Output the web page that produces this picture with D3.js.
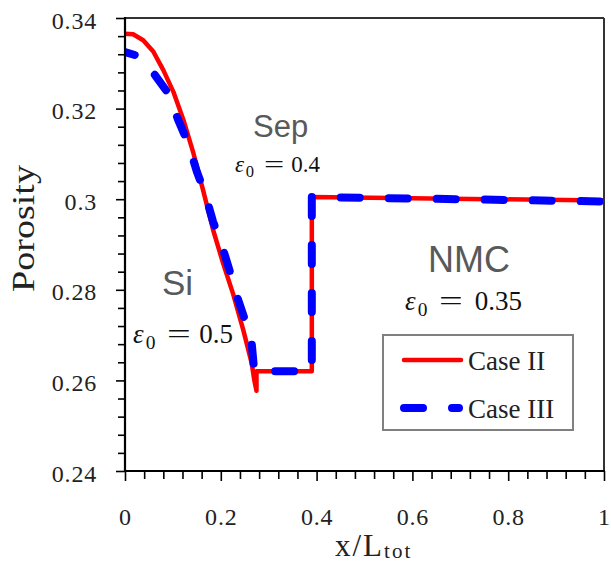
<!DOCTYPE html>
<html>
<head>
<meta charset="utf-8">
<script src="https://cdn.jsdelivr.net/npm/d3@7"></script>
<style>
  body { margin: 0; background: #fff; }
  svg { display: block; }
  .serif { font-family: "Liberation Serif", "Times New Roman", serif; }
  .sans { font-family: "Liberation Sans", Arial, sans-serif; }
</style>
</head>
<body>
<svg id="chart" width="611" height="565"></svg>
<script>
// Porosity profile across Si anode | separator | NMC cathode
const caseIIx = [0, 0.017, 0.038, 0.059, 0.080, 0.101, 0.122, 0.143, 0.163, 0.184, 0.205, 0.226, 0.247, 0.2645, 0.270, 0.2745, 0.2745, 0.390, 0.390, 1.0];
const caseIIy = [0.3365, 0.3364, 0.3351, 0.3326, 0.3285, 0.3237, 0.3175, 0.3101, 0.3020, 0.2932, 0.2858, 0.2790, 0.2711, 0.2638, 0.2600, 0.2577, 0.2620, 0.2620, 0.3005, 0.2997];

const caseIIIx = [0, 0.031, 0.0626, 0.090, 0.111, 0.132, 0.150, 0.167, 0.184, 0.202, 0.219, 0.233, 0.2505, 0.2645, 0.269, 0.269, 0.390, 0.390, 1.0];
const caseIIIy = [0.3325, 0.3315, 0.3274, 0.3234, 0.3175, 0.3123, 0.3061, 0.3013, 0.2950, 0.2899, 0.2840, 0.2788, 0.2733, 0.2682, 0.2630, 0.2620, 0.2620, 0.3005, 0.2995];

const seriesNames = ["Case II", "Case III"];
const seriesColors = ["#ff0000", "#0000ff"];

const xTicks = [0, 0.2, 0.4, 0.6, 0.8, 1];
const xTickLabels = ["0", "0.2", "0.4", "0.6", "0.8", "1"];
const yTicks = [0.24, 0.26, 0.28, 0.30, 0.32, 0.34];
const yTickLabels = ["0.24", "0.26", "0.28", "0.3", "0.32", "0.34"];

// region annotations: name, epsilon value, anchor (data coords)
const regionNames = ["Si", "Sep", "NMC"];
const regionEps = ["0.5", "0.4", "0.35"];
const regionNameX = [0.0772, 0.2672, 0.6326];
const regionNameY = [0.2789, 0.3137, 0.2839];
const regionEpsX = [0.0167, 0.2296, 0.5846];
const regionEpsY = [0.2683, 0.3060, 0.2755];

const W = 611, H = 565;
const margin = { top: 18, right: 7, bottom: 94, left: 125 };
const x0 = margin.left, x1 = W - margin.right;
const y0 = margin.top, y1 = H - margin.bottom;

const x = d3.scaleLinear().domain([0, 1]).range([x0, x1]);
const y = d3.scaleLinear().domain([0.24, 0.34]).range([y1, y0]);

const svg = d3.select("#chart");

svg.append("defs").append("clipPath").attr("id", "plotClip")
  .append("rect").attr("x", x0).attr("y", y0).attr("width", x1 - x0).attr("height", y1 - y0);

// y axis ticks: minor every 0.004, major every 0.02
const yMinor = d3.range(0, 26).map(i => 0.24 + i * 0.004).filter(v => !yTicks.some(t => Math.abs(t - v) < 1e-9));
const yMinorAxis = svg.append("g").attr("transform", `translate(${x0},0)`)
  .call(d3.axisLeft(y).tickValues(yMinor).tickSize(7).tickFormat(""));
const yMajorAxis = svg.append("g").attr("transform", `translate(${x0},0)`)
  .call(d3.axisLeft(y).tickValues(yTicks).tickSize(9).tickPadding(19)
    .tickFormat((d, i) => yTickLabels[i]));

// x axis ticks: minor every 0.04, major every 0.2
const xMinor = d3.range(0, 26).map(i => i * 0.04).filter(v => !xTicks.some(t => Math.abs(t - v) < 1e-9));
const xMinorAxis = svg.append("g").attr("transform", `translate(0,${y1})`)
  .call(d3.axisBottom(x).tickValues(xMinor).tickSize(8).tickFormat(""));
const xMajorAxis = svg.append("g").attr("transform", `translate(0,${y1})`)
  .call(d3.axisBottom(x).tickValues(xTicks).tickSize(10).tickPadding(27)
    .tickFormat((d, i) => xTickLabels[i]));

[yMinorAxis, yMajorAxis, xMinorAxis, xMajorAxis].forEach(g => {
  g.attr("font-family", null).attr("font-size", null);
  g.select(".domain").remove();
  g.selectAll(".tick line").attr("stroke", "#000").attr("stroke-width", 1.6);
  g.selectAll(".tick text")
    .attr("class", "serif")
    .style("font-size", "24px")
    .style("letter-spacing", "0.8px").attr("fill", "#222");
});
yMajorAxis.selectAll(".tick text").attr("dy", "10px");
xMajorAxis.selectAll(".tick text").attr("dy", "0.71em");

// data lines
const line = d3.line().x(d => x(d[0])).y(d => y(d[1]));
const caseII = caseIIx.map((v, i) => [v, caseIIy[i]]);
const caseIII = caseIIIx.map((v, i) => [v, caseIIIy[i]]);

const plot = svg.append("g").attr("clip-path", "url(#plotClip)");
plot.append("path").datum(caseII)
  .attr("d", line).attr("fill", "none")
  .attr("stroke", seriesColors[0]).attr("stroke-width", 4.5)
  .attr("stroke-linejoin", "round");
plot.append("path").datum(caseIII)
  .attr("d", line).attr("fill", "none")
  .attr("stroke", seriesColors[1]).attr("stroke-width", 8)
  .attr("stroke-linecap", "round").attr("stroke-linejoin", "round")
  .attr("stroke-dasharray", "19,29").attr("stroke-dashoffset", 8.8);

// frame
svg.append("line").attr("x1", x0).attr("x2", x1).attr("y1", y0).attr("y2", y0)
  .attr("stroke", "#333").attr("stroke-width", 2);
svg.append("line").attr("x1", x1).attr("x2", x1).attr("y1", y0).attr("y2", y1)
  .attr("stroke", "#333").attr("stroke-width", 2);
svg.append("line").attr("x1", x0).attr("x2", x0).attr("y1", y0 - 1).attr("y2", y1 + 1)
  .attr("stroke", "#000").attr("stroke-width", 2.2);
svg.append("line").attr("x1", x0 - 1).attr("x2", x1 + 1).attr("y1", y1).attr("y2", y1)
  .attr("stroke", "#000").attr("stroke-width", 2.2);

// axis titles
svg.append("text")
  .attr("class", "serif")
  .attr("transform", `translate(34,228.5) rotate(-90)`)
  .attr("text-anchor", "middle")
  .style("font-size", "32px").attr("fill", "#222")
  .attr("textLength", 127).attr("lengthAdjust", "spacingAndGlyphs")
  .text("Porosity");

const xt = svg.append("text")
  .attr("class", "serif")
  .attr("x", 335).attr("y", 556)
  .style("font-size", "31px").attr("fill", "#222")
  .style("letter-spacing", "2px");
xt.append("tspan").text("x/L");
xt.append("tspan").style("font-size", "21px").attr("dy", 2).text("tot");

// region annotations
const nameSizes = [35, 31, 36];
const epsSizes = [27, 23, 27];
const epsWidths = [100, 85, 117];
regionNames.forEach((nm, i) => {
  svg.append("text")
    .attr("class", "sans")
    .attr("x", x(regionNameX[i])).attr("y", y(regionNameY[i]))
    .style("font-size", nameSizes[i] + "px").attr("fill", "#595959")
    .text(nm);
  const s = epsSizes[i];
  const g = svg.append("g")
    .attr("transform", `translate(${x(regionEpsX[i])},${y(regionEpsY[i])})`);
  g.append("text").attr("class", "serif").style("font-size", s + "px")
    .style("font-style", "italic").attr("fill", "#111").text("ε");
  g.append("text").attr("class", "serif").style("font-size", (s * 0.72) + "px")
    .attr("x", s * 0.47).attr("y", s * 0.22).attr("fill", "#111").text("0");
  g.append("text").attr("class", "serif").style("font-size", s + "px")
    .attr("x", epsWidths[i]).attr("text-anchor", "end").attr("fill", "#111")
    .text(regionEps[i]);
  g.append("text").attr("class", "serif").style("font-size", s + "px")
    .attr("x", s * 1.26).attr("fill", "#111")
    .attr("textLength", s * 0.88).attr("lengthAdjust", "spacingAndGlyphs")
    .text("=");
});

// legend
const lg = svg.append("g");
lg.append("rect").attr("x", 383).attr("y", 335).attr("width", 190).attr("height", 95)
  .attr("fill", "#fff").attr("stroke", "#808080").attr("stroke-width", 2);
const rows = [360, 408];
seriesNames.forEach((nm, i) => {
  const ly = rows[i];
  const sample = lg.append("line")
    .attr("y1", ly).attr("y2", ly)
    .attr("stroke", seriesColors[i]).attr("stroke-linecap", "round");
  if (i === 0) {
    sample.attr("x1", 404).attr("x2", 461).attr("stroke-width", 4.5);
  } else {
    sample.attr("x1", 404).attr("x2", 459).attr("stroke-width", 8).attr("stroke-dasharray", "19,29");
  }
  lg.append("text").attr("class", "serif").attr("x", 468).attr("y", ly + 10)
    .style("font-size", "27px").attr("fill", "#222")
    .text(nm);
});
</script>
</body>
</html>
